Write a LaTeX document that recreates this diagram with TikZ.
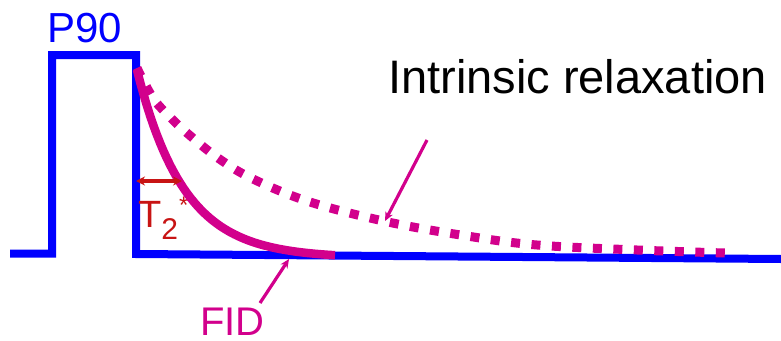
\documentclass[tikz,border=0pt]{standalone}
\usepackage{fontspec}
\setmainfont{Liberation Sans}
\usetikzlibrary{arrows.meta}
\definecolor{pulseblue}{RGB}{0,0,255}
\definecolor{fidmag}{RGB}{210,0,140}
\definecolor{tred}{RGB}{200,20,20}
\begin{document}
\begin{tikzpicture}[x=1pt,y=-1pt,
  pulse/.style={draw=pulseblue,line width=8pt,line join=miter},
  fidcurve/.style={draw=fidmag,line width=8.5pt},
  relaxcurve/.style={draw=fidmag,line width=9pt,dash pattern=on 9pt off 11.5pt},
  pointer/.style={draw=fidmag,line width=3.2pt,-{Stealth[length=9pt,width=8pt]}},
  tarrow/.style={draw=tred,line width=3.2pt,{Stealth[length=9pt,width=9pt]}-{Stealth[length=9pt,width=9pt]}},
  lbl/.style={inner sep=0pt,anchor=base west}]
\useasboundingbox (0,0) rectangle (781,340);
% pulse sequence line
\coordinate (b0) at (10,253.5);
\coordinate (b1) at (52,253.5);
\coordinate (b2) at (52,55);
\coordinate (b3) at (136,55);
\coordinate (b4) at (136,254);
\coordinate (b5) at (781,259);
\draw[pulse] (b0) -- (b1) -- (b2) -- (b3) -- (b4) -- (b5);
% labels
\node[lbl,text=pulseblue,font=\fontsize{42}{48}\selectfont] (p90) at (47,42) {P90};
\node[lbl,text=black,font=\fontsize{47}{54}\selectfont] (intr) at (388,93) {Intrinsic relaxation};
\node[lbl,text=fidmag,font=\fontsize{40}{46}\selectfont] (fid) at (200,335) {FID};
\node[lbl,text=tred,font=\fontsize{38}{44}\selectfont] (t2) at (138,227) {T\raisebox{-12pt}{\fontsize{30}{30}\selectfont 2}\kern1pt\raisebox{14pt}{\fontsize{24}{24}\selectfont *}};
% intrinsic relaxation (dotted)
\draw[relaxcurve] plot[smooth,tension=0.6] coordinates {(137,68) (153,98) (170,117) (187,133) (218,158) (253,179) (310,202) (388,222) (467,236) (537,245) (637,250) (725,253)};
% FID curve
\draw[fidcurve] plot[domain=137:335,samples=60] (\x,{258-188*exp(-(\x-137)/47)});
% T2* arrow
\coordinate (ta) at (136,181);
\coordinate (tb) at (182,181);
\draw[tarrow] (ta) -- (tb);
% pointers
\coordinate (intr-tail) at (427,140);
\coordinate (intr-head) at (385,221);
\draw[pointer] (intr-tail) -- (intr-head);
\coordinate (fid-tail) at (260,303);
\coordinate (fid-head) at (289,259);
\draw[pointer] (fid-tail) -- (fid-head);
\end{tikzpicture}
\end{document}
